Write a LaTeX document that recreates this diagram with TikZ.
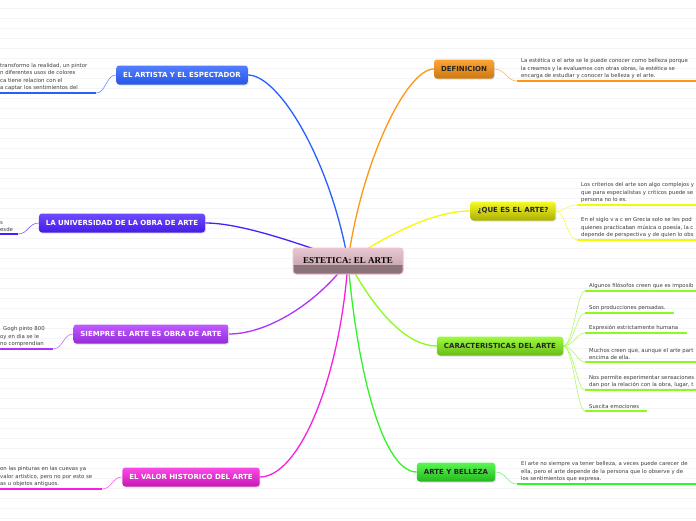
\documentclass[tikz,border=0pt]{standalone}
\usepackage{fontspec}
\setmainfont{DejaVu Sans}
\newfontfamily\rootfont{Liberation Serif}
\usepackage{xcolor}
\usepackage{tikz}
\usetikzlibrary{shadows,backgrounds}

\definecolor{rulecol}{RGB}{244,244,246}
\definecolor{notecol}{RGB}{60,60,60}
\definecolor{rootlight}{RGB}{230,200,208}
\definecolor{rootmid}{RGB}{205,170,180}
\definecolor{rootdark}{RGB}{138,115,120}
\definecolor{rootedge}{RGB}{242,190,210}
\definecolor{artistacol}{RGB}{40,95,255}
\definecolor{univcol}{RGB}{75,30,255}
\definecolor{siemprecol}{RGB}{175,50,255}
\definecolor{valorcol}{RGB}{250,30,225}
\definecolor{defcol}{RGB}{255,150,20}
\definecolor{queescol}{RGB}{245,250,0}
\definecolor{caractcol}{RGB}{140,250,30}
\definecolor{bellezacol}{RGB}{50,245,40}

\pgfdeclareverticalshading{rootshade}{100bp}{color(0bp)=(rootdark); color(43bp)=(rootdark); color(44bp)=(rootmid); color(75bp)=(rootlight); color(100bp)=(rootlight)}

\tikzset{
  topic/.style={rounded corners=3pt, minimum height=19pt, inner xsep=7pt, inner ysep=0pt,
    font=\fontsize{7}{8}\selectfont\bfseries,
    drop shadow={opacity=0.25, shadow xshift=0.8pt, shadow yshift=-1pt}},
  lefttopic/.style={topic, text=white},
  righttopic/.style={topic, text=black!85},
  note/.style={inner xsep=4pt, inner ysep=2pt, align=left, text=notecol,
    font=\fontsize{5.35}{7.5}\selectfont},
  branch/.style={line width=1.3pt, #1},
  twig/.style={line width=0.6pt, #1!70},
  uline/.style={line width=2pt, #1}
}

\begin{document}
\begin{tikzpicture}[x=1pt, y=-1pt]
  \useasboundingbox (0,0) rectangle (696,520);
  \clip (0,0) rectangle (696,520);

  % central topic
  \node[draw=rootedge, line width=1pt, rounded corners=3pt, shading=rootshade,
        minimum width=110pt, minimum height=26pt, font=\rootfont\fontsize{9}{10}\selectfont\bfseries]
        (root) at (348,261) {ESTETICA: EL ARTE};

  % left topics
  \node[lefttopic, top color=artistacol!80!white, bottom color=artistacol!90!black] (artista) at (182,75) {EL ARTISTA Y EL ESPECTADOR};
  \node[lefttopic, top color=univcol!80!white, bottom color=univcol!90!black] (universidad) at (122,223) {LA UNIVERSIDAD DE LA OBRA DE ARTE};
  \node[lefttopic, top color=siemprecol!80!white, bottom color=siemprecol!85!black] (siempre) at (151,334) {SIEMPRE EL ARTE ES OBRA DE ARTE};
  \node[lefttopic, top color=valorcol!80!white, bottom color=valorcol!80!black] (valor) at (191,477) {EL VALOR HISTORICO DEL ARTE};

  % right topics
  \node[righttopic, top color=defcol!85!white, bottom color=defcol!80!black] (definicion) at (464,69) {DEFINICION};
  \node[righttopic, top color=queescol!85!white, bottom color=queescol!70!black] (quees) at (513,211) {¿QUE ES EL ARTE?};
  \node[righttopic, top color=caractcol!85!white, bottom color=caractcol!75!black] (caract) at (500,346) {CARACTERISTICAS DEL ARTE};
  \node[righttopic, top color=bellezacol!80!white, bottom color=bellezacol!75!black] (belleza) at (456,472) {ARTE Y BELLEZA};

  % notes left
  \node[note, anchor=south west] (artistanote) at (-4,93) {transformo la realidad, un pintor\\n diferentes usos de colores\\ca tiene relacion con el\\a captar los sentimientos del};
  \node[note, anchor=south west] (univnote) at (-4,234) {s\\esde};
  \node[note, anchor=south west] (siemprenote) at (-4,349) {\hspace*{3pt}Gogh pinto 800\\oy en dia se le\\no comprendian};
  \node[note, anchor=south west] (valornote) at (-4,489) {on las pinturas en las cuevas ya\\valor artistico, pero no por esto se\\as u objetos antiguos.};

  % notes right
  \node[note, anchor=south west] (defnote) at (517,81) {La estética o el arte se le puede conocer como belleza porque\\la creamos y la evaluamos con otras obras, la estética se\\encarga de estudiar y conocer la belleza y el arte.};
  \node[note, anchor=south west] (queesnotea) at (577,205) {Los criterios del arte son algo complejos y\\que para especialistas y críticos puede se\\persona no lo es.};
  \node[note, anchor=south west] (queesnoteb) at (577,240) {En el siglo v a c en Grecia solo se les pod\\quienes practicaban música o poesía, la c\\depende de perspectiva y de quien lo obs};
  \node[note, anchor=south west] (caractnotea) at (585,291) {Algunos filósofos creen que es imposib};
  \node[note, anchor=south west] (caractnoteb) at (585,313) {Son producciones pensadas.};
  \node[note, anchor=south west] (caractnotec) at (585,333) {Expresión estrictamente humana};
  \node[note, anchor=south west] (caractnoted) at (585,362) {Muchos creen que, aunque el arte part\\encima de ella.};
  \node[note, anchor=south west] (caractnotee) at (585,390) {Nos permite experimentar sensaciones\\dan por la relación con la obra, lugar, t};
  \node[note, anchor=south west] (caractnotef) at (585,411) {Suscita emociones};
  \node[note, anchor=south west] (bellezanote) at (517,484) {El arte no siempre va tener belleza, a veces puede carecer de\\ella, pero el arte depende de la persona que lo observe y de\\los sentimientos que expresa.};

  \begin{scope}[on background layer]
    \clip (0,0) rectangle (696,520);
    \fill[white] (0,0) rectangle (696,520);
    % ruled paper
    \foreach \y in {8,18,...,518}
      \draw[rulecol, line width=0.5pt] (0,\y) -- (696,\y);

    % branches from the root
    \draw[branch=artistacol] (root.center) .. controls +(-18,-101) and +(31,0) .. (artista.east);
    \draw[branch=univcol] (root.center) .. controls +(-58,-21) and +(33,0) .. (universidad.east);
    \draw[branch=siemprecol] (root.center) .. controls +(-28,39) and +(41,0) .. (siempre.east);
    \draw[branch=valorcol] (root.center) .. controls +(-8,119) and +(39,0) .. (valor.east);
    \draw[branch=defcol] (root.center) .. controls +(14,-101) and +(-27,0) .. (definicion.west);
    \draw[branch=queescol] (root.center) .. controls +(32,-21) and +(-41,0) .. (quees.west);
    \draw[branch=caractcol] (root.center) .. controls +(32,59) and +(-26,0) .. (caract.west);
    \draw[branch=bellezacol] (root.center) .. controls +(10,119) and +(-32,0) .. (belleza.west);

    % underlines
    \draw[uline=artistacol] (artistanote.south west) -- ++(100,0) coordinate (artistaend);
    \draw[uline=univcol] (univnote.south west) -- ++(22,0) coordinate (univend);
    \draw[uline=siemprecol] (siemprenote.south west) -- ++(57,0) coordinate (siempreend);
    \draw[uline=valorcol] (valornote.south west) -- ++(106,0) coordinate (valorend);
    \draw[uline=defcol] (defnote.south west) -- ++(190,0);
    \draw[uline=queescol] (queesnotea.south west) -- ++(130,0);
    \draw[uline=queescol] (queesnoteb.south west) -- ++(130,0);
    \draw[uline=caractcol] (caractnotea.south west) -- ++(120,0);
    \draw[uline=caractcol] (caractnoteb.south west) -- ++(89,0);
    \draw[uline=caractcol] (caractnotec.south west) -- ++(102,0);
    \draw[uline=caractcol] (caractnoted.south west) -- ++(120,0);
    \draw[uline=caractcol] (caractnotee.south west) -- ++(120,0);
    \draw[uline=caractcol] (caractnotef.south west) -- ++(62,0);
    \draw[uline=bellezacol] (bellezanote.south west) -- ++(190,0);

    % twigs to the notes
    \draw[twig=artistacol] (artista.west) .. controls +(-10,0) and +(10,0) .. (artistaend);
    \draw[twig=univcol] (universidad.west) .. controls +(-10,0) and +(10,0) .. (univend);
    \draw[twig=siemprecol] (siempre.west) .. controls +(-10,0) and +(10,0) .. (siempreend);
    \draw[twig=valorcol] (valor.west) .. controls +(-10,0) and +(10,0) .. (valorend);
    \draw[twig=defcol] (definicion.east) .. controls +(11,0) and +(-10,0) .. (defnote.south west);
    \draw[twig=queescol] (quees.east) .. controls +(10,0) and +(-10,0) .. (queesnotea.south west);
    \draw[twig=queescol] (quees.east) .. controls +(10,0) and +(-10,0) .. (queesnoteb.south west);
    \foreach \n in {a,b,c,d,e,f}
      \draw[twig=caractcol] (caract.east) .. controls +(10,0) and +(-8,0) .. (caractnote\n.south west);
    \draw[twig=bellezacol] (belleza.east) .. controls +(11,0) and +(-10,0) .. (bellezanote.south west);
  \end{scope}
\end{tikzpicture}
\end{document}
